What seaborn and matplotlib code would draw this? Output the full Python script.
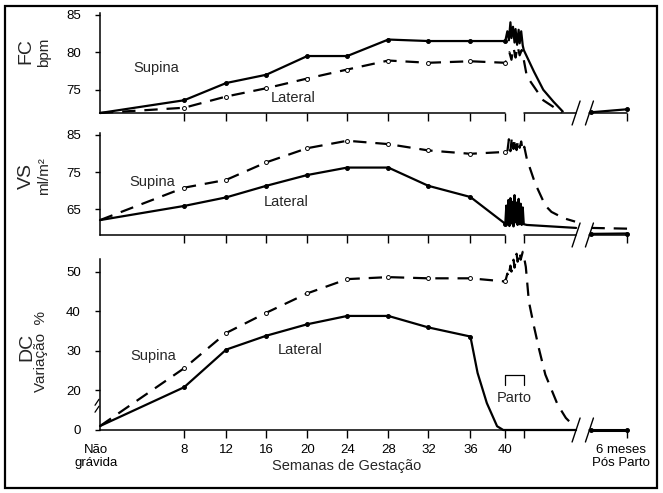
import numpy as np
import pandas as pd
import matplotlib
matplotlib.use("Agg")
import matplotlib.pyplot as plt
import matplotlib.transforms as mtrans
import seaborn as sns
from matplotlib.patches import Rectangle
from matplotlib.lines import Line2D

sns.set_theme(style="ticks")
plt.rcParams['font.family'] = ['Liberation Sans', 'DejaVu Sans']

# ---------------- data ----------------
tick_pos = [0, 8.2, 12.3, 16.2, 20.2, 24.1, 28.1, 32.0, 36.1, 39.5, 41.3, 51.4]
tick_labels = ['Não\ngrávida', '8', '12', '16', '20', '24', '28', '32', '36', '40', '', '6 meses\nPós Parto']
weeks_x = [0, 8.2, 12.3, 16.2, 20.2, 24.1, 28.1, 32.0, 36.1, 39.5]
post_x = [47.9, 51.4]

# FC (bpm)
fc_supina = [71.9, 73.6, 75.9, 77.0, 79.5, 79.5, 81.7, 81.5, 81.5, 81.5]
fc_lateral = [71.9, 72.6, 74.1, 75.2, 76.5, 77.7, 78.9, 78.6, 78.8, 78.6]
fc_sup_tail_x = [39.7, 39.85, 40.0, 40.1, 40.25, 40.4, 40.5, 40.65, 40.8, 40.9, 41.05, 41.2, 41.3, 42.3, 43.2, 44.2, 45.1]
fc_sup_tail = [82.8, 81.6, 84.0, 81.9, 83.4, 81.3, 83.1, 81.0, 83.0, 81.2, 82.8, 80.9, 80.3, 77.4, 75.0, 73.4, 72.1]
fc_lat_tail_x = [39.7, 39.9, 40.1, 40.3, 40.5, 40.7, 40.9, 41.1, 41.3, 41.6, 42.3, 43.2, 44.2, 45.0]
fc_lat_tail = [79.3, 80.0, 79.0, 80.6, 79.3, 80.8, 79.6, 80.3, 79.0, 76.8, 75.4, 73.6, 72.7, 71.95]
fc_post = [72.0, 72.4]

# VS (ml/m2)
vs_supina = [62.1, 70.8, 72.9, 77.6, 81.4, 83.4, 82.5, 80.8, 79.9, 80.4]
vs_lateral = [62.1, 65.9, 68.2, 71.3, 74.2, 76.2, 76.2, 71.3, 68.3, 61.1]
vs_sup_tail_x = [39.7, 39.85, 40.0, 40.15, 40.3, 40.45, 40.6, 40.75, 40.9, 41.05, 41.2, 41.35, 41.6, 42.4, 43.4, 44.0, 45.2, 46.3]
vs_sup_tail = [80.5, 83.8, 80.6, 84.5, 81.2, 84.0, 80.9, 83.6, 81.5, 83.2, 80.6, 81.8, 78.5, 72.0, 66.0, 64.3, 62.6, 61.7]
vs_lat_tail_x = [39.6, 39.7, 39.8, 39.9, 40.0, 40.1, 40.2, 40.3, 40.4, 40.5, 40.6, 40.7, 40.8, 40.9, 41.0, 41.1, 41.2, 41.3, 41.6, 46.4]
vs_lat_tail = [66.0, 61.0, 67.5, 60.5, 68.0, 61.2, 67.0, 60.4, 68.8, 61.5, 66.8, 60.8, 67.8, 61.0, 66.5, 60.8, 65.5, 61.0, 60.8, 60.0]
vs_sup_post = [60.0, 59.8]
vs_lat_post = [58.4, 58.5]

# DC (variação %)
dc_supina = [2.0, 25.6, 34.5, 39.6, 44.5, 48.1, 48.6, 48.3, 48.3, 47.5]
dc_lat_x = [0, 8.2, 12.3, 16.2, 20.2, 24.1, 28.1, 32.0, 36.1]
dc_lateral = [2.0, 20.8, 30.3, 33.8, 36.7, 38.8, 38.8, 35.9, 33.6]
dc_lat_tail_x = [36.8, 37.7, 38.7, 39.3, 46.4]
dc_lat_tail = [24.4, 13.6, 1.9, 0.0, 0.0]
dc_sup_tail_x = [39.7, 39.8, 40.0, 40.1, 40.3, 40.4, 40.6, 40.7, 40.9, 41.0, 41.2, 41.3, 41.5, 41.8, 42.3, 42.8, 43.4, 44.6, 45.4, 46.2]
dc_sup_tail = [49.5, 48.5, 51.5, 50.0, 53.0, 51.0, 54.5, 52.5, 55.0, 53.0, 55.0, 54.0, 51.2, 42.4, 36.1, 30.3, 24.0, 12.8, 6.1, 1.9]
dc_post = [0.0, 0.0]

# ---------------- figure ----------------
W, H = 663, 493
fig = plt.figure(figsize=(W / 100, H / 100), dpi=100)
fig.patch.set_facecolor('white')

def fpos(top_px, bottom_px):
    left = 100 / W
    width = (627.4 - 100) / W
    return [left, 1 - bottom_px / H, width, (bottom_px - top_px) / H]

ax_fc = fig.add_axes(fpos(13.3, 113))
ax_vs = fig.add_axes(fpos(133.3, 235))
ax_dc = fig.add_axes(fpos(249.8, 430))

LW = 1.6
DASH = (0, (6, 4))

def line(ax, x, y, dashed=False, lw=LW):
    df = pd.DataFrame({'x': x, 'y': y})
    sns.lineplot(data=df, x='x', y='y', ax=ax, color='black', lw=lw,
                 linestyle=DASH if dashed else '-', sort=False, estimator=None)
    ax.lines[-1].set_clip_on(False)

def pts(ax, x, y, open_=False):
    df = pd.DataFrame({'x': x, 'y': y})
    sns.scatterplot(data=df, x='x', y='y', ax=ax, s=8,
                    facecolor='white' if open_ else 'black', edgecolor='black',
                    linewidth=0.7, zorder=5, clip_on=False)

# FC
line(ax_fc, weeks_x + fc_sup_tail_x, fc_supina + fc_sup_tail)
line(ax_fc, weeks_x + fc_lat_tail_x, fc_lateral + fc_lat_tail, dashed=True)
line(ax_fc, post_x, fc_post)
pts(ax_fc, weeks_x[1:], fc_supina[1:])
pts(ax_fc, weeks_x[1:], fc_lateral[1:], open_=True)
pts(ax_fc, post_x, fc_post)

# VS
line(ax_vs, weeks_x + vs_sup_tail_x, vs_supina + vs_sup_tail, dashed=True)
line(ax_vs, weeks_x + vs_lat_tail_x, vs_lateral + vs_lat_tail)
line(ax_vs, post_x, vs_sup_post, dashed=True)
line(ax_vs, post_x, vs_lat_post)
pts(ax_vs, weeks_x[1:], vs_supina[1:], open_=True)
pts(ax_vs, weeks_x[1:], vs_lateral[1:])
pts(ax_vs, post_x, vs_lat_post)

# DC with broken (compressed) scale below 20
def fwd(y):
    y = np.asarray(y, dtype=float)
    return np.where(y >= 20, y, 20 - (20 - y) * 0.5)

def inv(t):
    t = np.asarray(t, dtype=float)
    return np.where(t >= 20, t, 20 - (20 - t) * 2.0)

ax_dc.set_yscale('function', functions=(fwd, inv))
line(ax_dc, weeks_x + dc_sup_tail_x, dc_supina + dc_sup_tail, dashed=True)
line(ax_dc, dc_lat_x + dc_lat_tail_x, dc_lateral + dc_lat_tail)
line(ax_dc, post_x, dc_post, lw=2.2)
pts(ax_dc, weeks_x[1:], dc_supina[1:], open_=True)
pts(ax_dc, dc_lat_x[1:], dc_lateral[1:])
pts(ax_dc, post_x, dc_post)

# ---------------- axes styling ----------------
specs = [
    (ax_fc, (71.9, 85.2), [75, 80, 85], None, [(0, 39.5), (41.3, 46.4), (47.7, 51.4)]),
    (ax_vs, (58.1, 85.4), [65, 75, 85], None, [(0, 39.5), (41.3, 46.4), (47.7, 51.4)]),
    (ax_dc, (0, 55.5), [0, 20, 30, 40, 50], (0, 53.3), [(0, 46.4), (47.7, 51.4)]),
]
for ax, ylim, yt, bounds, segs in specs:
    ax.set_xlim(0, 51.4)
    ax.set_ylim(*ylim)
    ax.set_yticks(yt)
    ax.set_yticklabels([str(v) for v in yt])
    ax.set_xticks(tick_pos[1:])
    ax.set_xlabel('')
    ax.set_ylabel('')
    ax.set_facecolor('white')
    for s in ['top', 'right', 'bottom']:
        ax.spines[s].set_visible(False)
    ax.spines['left'].set_color('black')
    ax.spines['left'].set_linewidth(1.1)
    if bounds is not None:
        ax.spines['left'].set_bounds(*bounds)
    ax.tick_params(axis='y', direction='out', length=3.8, width=1, color='black',
                   labelsize=9.5, pad=10, labelcolor='black')
    ax.tick_params(axis='x', direction='out', length=5.8, width=1, color='black',
                   labelsize=9.5, pad=4, labelcolor='black')
    trans = ax.get_xaxis_transform()
    for a, b in segs:
        ax.plot([a, b], [0, 0], transform=trans, color='black', lw=1.1, clip_on=False)

ax_fc.tick_params(axis='x', labelbottom=False)
ax_vs.tick_params(axis='x', labelbottom=False)
ax_dc.set_xticks(tick_pos)
ax_dc.set_xticklabels(tick_labels)
xt = ax_dc.get_xticklines()
xt[0].set_visible(False)
xt[1].set_visible(False)
labs = ax_dc.get_xticklabels()
labs[-1].set_transform(labs[-1].get_transform() +
                       mtrans.ScaledTranslation(-6 / 100, 0, fig.dpi_scale_trans))
labs[0].set_transform(labs[0].get_transform() +
                      mtrans.ScaledTranslation(-4 / 100, 0, fig.dpi_scale_trans))

# break marks (drawn in display space)
def slash(ax, xd, yd, dx=4, dy=12, lw=1.0):
    px, py = ax.get_xaxis_transform().transform((xd, yd))
    fig.add_artist(Line2D([px - dx, px + dx], [py - dy, py + dy], transform=None,
                          color='black', lw=lw))

for ax in (ax_fc, ax_vs, ax_dc):
    slash(ax, 46.4, 0)
    slash(ax, 47.7, 0)

# y-axis break on DC
for yv in (14.0, 10.5):
    p = ax_dc.transData.transform((0, yv))
    fig.add_artist(Line2D([p[0] - 5, p[0] - 1], [p[1] - 3, p[1] + 3], transform=None,
                          color='black', lw=0.9))

# ---------------- texts ----------------
fs = 10.5
ax_fc.text(5.5, 77.9, 'Supina', fontsize=fs, ha='center', va='center')
ax_fc.text(18.8, 73.9, 'Lateral', fontsize=fs, ha='center', va='center')
ax_vs.text(5.1, 72.4, 'Supina', fontsize=fs, ha='center', va='center')
ax_vs.text(18.1, 67.0, 'Lateral', fontsize=fs, ha='center', va='center')
ax_dc.text(5.2, 28.6, 'Supina', fontsize=fs, ha='center', va='center')
ax_dc.text(19.5, 30.3, 'Lateral', fontsize=fs, ha='center', va='center')
ax_dc.text(40.4, 16.1, 'Parto', fontsize=fs, ha='center', va='center')
ax_dc.plot([39.5, 39.5, 41.3, 41.3], [21.4, 24.0, 24.0, 21.4], color='black', lw=0.9)

fig.text(347 / W, 1 - 466 / H, 'Semanas de Gestação', fontsize=fs, ha='center', va='center')

def ylab(xpx, ypx, s, size):
    fig.text(xpx / W, 1 - ypx / H, s, rotation=90, fontsize=size, ha='center', va='center')

ylab(26, 51, 'FC', 14)
ylab(44, 52, 'bpm', 11)
ylab(26, 176, 'VS', 14)
ylab(44, 176, 'ml/m²', 11)
ylab(27, 347, 'DC', 14)
ylab(41, 352, 'Variação  %', 11)

fig.add_artist(Rectangle((5 / W, 5 / H), 652 / W, 482 / H, transform=fig.transFigure,
                         fill=False, lw=1.6, ec='black'))

fig.savefig('out.png', dpi=100, facecolor='white')
